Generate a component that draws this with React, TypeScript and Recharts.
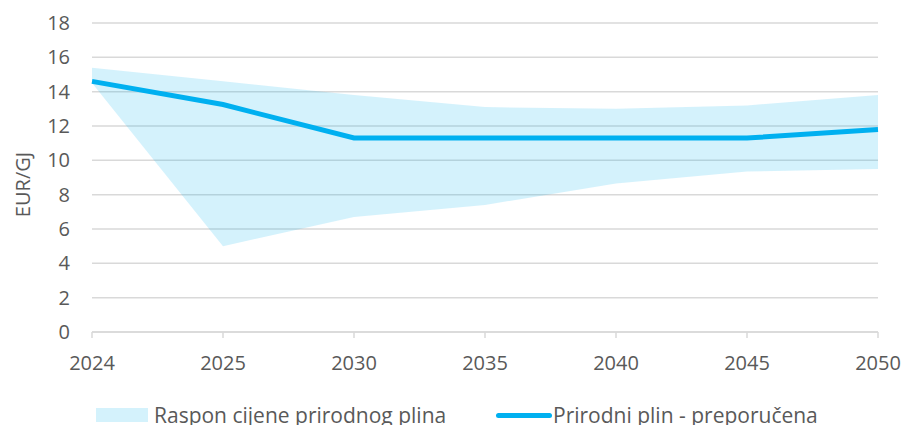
import React from 'react';
import { ComposedChart, Area, Line, XAxis, YAxis, CartesianGrid, Legend } from 'recharts';

const years = ['2024', '2025', '2030', '2035', '2040', '2045', '2050'];
const rangeLow = [14.5, 5.0, 6.7, 7.4, 8.65, 9.35, 9.5];
const rangeHigh = [15.4, 14.6, 13.8, 13.1, 13.0, 13.2, 13.8];
const recommended = [14.6, 13.25, 11.3, 11.3, 11.3, 11.3, 11.8];
const yTicks = [0, 2, 4, 6, 8, 10, 12, 14, 16, 18];

const rangeName = 'Raspon cijene prirodnog plina';
const lineName = 'Prirodni plin - preporučena';

const data = years.map((y, i) => ({
  year: y,
  range: [rangeLow[i], rangeHigh[i]],
  line: recommended[i],
}));

const FONT = '"Open Sans", sans-serif';
const TEXT = '#595959';

const LegendContent = () => (
  <div style={{ position: 'relative', width: 903, height: 30, fontFamily: FONT, fontSize: 21, color: TEXT }}>
    <div style={{ position: 'absolute', left: 96, top: 8, width: 52, height: 14, background: '#00B0F0', opacity: 0.17 }} />
    <div style={{ position: 'absolute', left: 154, top: 0, lineHeight: '30px', whiteSpace: 'nowrap' }}>{rangeName}</div>
    <div style={{ position: 'absolute', left: 496, top: 13, width: 56, height: 5, borderRadius: 3, background: '#00B0F0' }} />
    <div style={{ position: 'absolute', left: 553, top: 0, lineHeight: '30px', whiteSpace: 'nowrap' }}>{lineName}</div>
  </div>
);

const YLabel = (props: any) => {
  const vb = props.viewBox || {};
  const cx = 22;
  const cy = (vb.y ?? 0) + (vb.height ?? 0) / 2 + 7;
  return (
    <text x={cx} y={cy} transform={`rotate(-90, ${cx}, ${cy})`} textAnchor="middle" dominantBaseline="central"
      fill={TEXT} fontSize={20} fontFamily={FONT}>EUR/GJ</text>
  );
};

export default function App() {
  return (
    <div style={{ position: 'absolute', left: 0, top: 0, background: '#fff' }}>
      <ComposedChart width={903} height={425} data={data} margin={{ top: 23, right: 25, bottom: 23, left: 0 }}>
        <CartesianGrid vertical={false} stroke="#d9d9d9" strokeWidth={1.5} />
        <XAxis dataKey="year" interval={0} stroke="#d9d9d9" strokeWidth={1.5} tickSize={6} tickMargin={18} height={40}
          tick={{ fill: TEXT, fontSize: 20, fontFamily: FONT }} padding={{ left: 0, right: 0 }} />
        <YAxis domain={[0, 18]} ticks={yTicks} width={92} axisLine={false} tickLine={false} tickSize={0} tickMargin={22}
          tick={{ fill: TEXT, fontSize: 20, fontFamily: FONT }} label={<YLabel />} />
        <Area dataKey="range" name={rangeName} type="linear" stroke="none" fill="#00B0F0" fillOpacity={0.17}
          isAnimationActive={false} activeDot={false} />
        <Line dataKey="line" name={lineName} type="linear" stroke="#00B0F0" strokeWidth={5} dot={false}
          isAnimationActive={false} activeDot={false} />
        <Legend content={<LegendContent />} wrapperStyle={{ position: 'absolute', left: 0, top: 400, width: 903 }} />
      </ComposedChart>
    </div>
  );
}
